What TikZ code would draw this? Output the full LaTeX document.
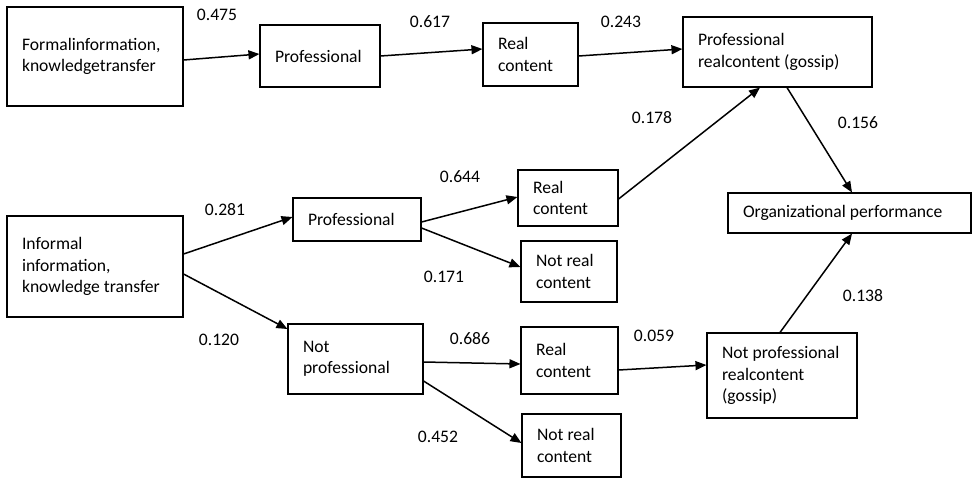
\documentclass[tikz,border=0pt]{standalone}
\usepackage{fontspec}
\setmainfont{Carlito}
\usepackage{tikz}
\usetikzlibrary{positioning, arrows.meta}

\begin{document}
\begin{tikzpicture}[x=1pt, y=-1pt,
                    b/.style={draw, line width=1.1pt, align=flush left, inner xsep=15pt, inner ysep=0pt,
                              font=\fontsize{17.6}{21.5}\selectfont},
                    a/.style={line width=1.5pt, -{Triangle[length=11pt,width=9pt]}},
                    l/.style={inner sep=0pt, font=\fontsize{17.6}{21.5}\selectfont}]
  \useasboundingbox (0,0) rectangle (973,479);
  \node[b, text width=146pt, minimum height=99pt] (fi) at (95,56.5) {Formalinformation,\\knowledgetransfer};
  \node[b, text width=90pt, minimum height=62pt] (p1) at (320,56) {Professional};
  \node[b, text width=65pt, minimum height=63pt] (r1) at (530.5,54.5) {Real\\content};
  \node[b, text width=159pt, minimum height=70pt] (g1) at (777.5,52) {Professional\\realcontent (gossip)};
  \node[b, text width=213pt, minimum height=40pt] (op) at (849.5,213) {Organizational performance};
  \node[b, text width=146pt, minimum height=101pt] (ii) at (95,266.5) {Informal\\information,\\knowledge transfer};
  \node[b, text width=98pt, minimum height=43pt] (p2) at (357,219.5) {Professional};
  \node[b, text width=105pt, minimum height=70pt] (np) at (355.5,359) {Not\\professional};
  \node[b, text width=70pt, minimum height=56pt] (r2) at (568,198) {Real\\content};
  \node[b, text width=66pt, minimum height=61pt] (n2) at (569,271.5) {Not real\\content};
  \node[b, text width=67pt, minimum height=67pt] (r3) at (569.5,360.5) {Real\\content};
  \node[b, text width=120pt, minimum height=85pt] (g3) at (782,375.5) {Not professional\\realcontent\\(gossip)};
  \node[b, text width=69pt, minimum height=63pt] (n3) at (571.5,445.5) {Not real\\content};

  \draw[a] ([yshift=-3.5pt]fi.east) -- ([yshift=2pt]p1.west);
  \draw[a] (p1.east) -- ([yshift=5.5pt]r1.west);
  \draw[a] ([yshift=-1.5pt]r1.east) -- ([yshift=3pt]g1.west);
  \draw[a] ([yshift=-1pt]r2.east) -- ([xshift=-17.5pt]g1.south);
  \draw[a] ([xshift=9.5pt]g1.south) -- ([xshift=2.5pt]op.north);
  \draw[a] ([xshift=-2pt]g3.north) -- ([xshift=2.5pt]op.south);
  \draw[a] ([yshift=12.5pt]ii.east) -- ([yshift=2.5pt]p2.west);
  \draw[a] ([yshift=-7.5pt]ii.east) -- ([yshift=30pt]np.west);
  \draw[a] ([yshift=-2.5pt]p2.east) -- ([yshift=1pt]r2.west);
  \draw[a] ([yshift=-8.5pt]p2.east) -- ([yshift=4.5pt]n2.west);
  \draw[a] ([yshift=-3pt]np.east) -- ([yshift=-3.5pt]r3.west);
  \draw[a] ([yshift=-22pt]np.east) -- ([yshift=2.5pt]n3.west);
  \draw[a] ([yshift=-9.5pt]r3.east) -- ([yshift=10.5pt]g3.west);

  \node[l] (w1) at (217,15) {0.475};
  \node[l] (w2) at (430,22) {0.617};
  \node[l] (w3) at (621,22) {0.243};
  \node[l] (w4) at (652,118) {0.178};
  \node[l] (w5) at (858,123) {0.156};
  \node[l] (w6) at (225,210) {0.281};
  \node[l] (w7) at (460,177) {0.644};
  \node[l] (w8) at (444,277) {0.171};
  \node[l] (w9) at (219,340) {0.120};
  \node[l] (w10) at (470,339) {0.686};
  \node[l] (w11) at (438,437) {0.452};
  \node[l] (w12) at (654,336) {0.059};
  \node[l] (w13) at (863,296) {0.138};
\end{tikzpicture}
\end{document}
